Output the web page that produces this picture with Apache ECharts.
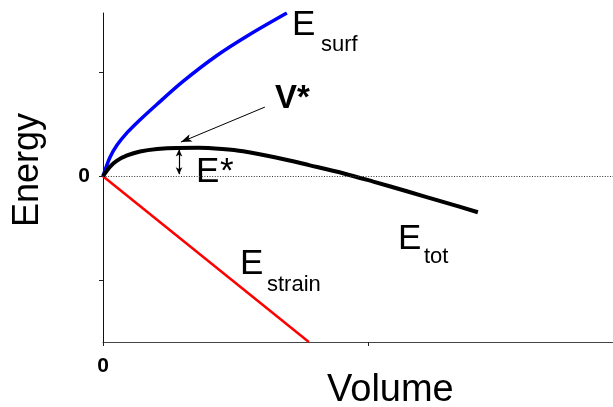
<!DOCTYPE html>
<html><head><meta charset="utf-8">
<script src="https://cdn.jsdelivr.net/npm/echarts@6/dist/echarts.min.js"></script>
<style>html,body{margin:0;padding:0;background:#fff}#c{width:613px;height:407px}</style>
</head><body><div id="c"></div>
<script>
// Surface energy curve (blue)
const volumeSurf = [0, 0.026, 0.053, 0.091, 0.14, 0.204, 0.302, 0.43, 0.555, 0.694];
const energySurf = [0, 0.18, 0.30, 0.42, 0.545, 0.695, 0.915, 1.165, 1.37, 1.575];
// Strain energy line (red)
const volumeStrain = [0, 0.777];
const energyStrain = [0, -1.6];
// Total energy curve (black)
const volumeTot = [0, 0.026, 0.053, 0.091, 0.14, 0.204, 0.279, 0.36, 0.45, 0.529, 0.657, 0.781, 0.906, 1.02, 1.15, 1.28, 1.415];
const energyTot = [0, 0.09, 0.15, 0.20, 0.238, 0.262, 0.273, 0.274, 0.262, 0.240, 0.178, 0.105, 0.029, -0.052, -0.148, -0.245, -0.348];
// ticks and labels
const xTicks = [0, 1];
const yTicks = [-1, 0, 1];
const xLabelValues = [0];
const yLabelValues = [0];
// annotations (data coordinates)
const vStarArrow = [[0.611, 0.667], [0.294, 0.329]];
const eStarArrow = [[0.287, 0.02], [0.287, 0.258]];

const zip = (a, b) => a.map((v, i) => [v, b[i]]);
const FONT = '"Liberation Sans", Arial, sans-serif';

const chart = echarts.init(document.getElementById('c'), null, {renderer: 'canvas'});

function txt(text, x, baseline, size, weight) {
  return {
    type: 'text', x: x, y: baseline - Math.round(0.85 * size),
    style: {text: text, fill: '#000', font: (weight || 'normal') + ' ' + size + 'px ' + FONT,
            textAlign: 'left', textVerticalAlign: 'top'}, silent: true
  };
}

chart.setOption({
  animation: false,
  backgroundColor: '#fff',
  grid: {left: 103, right: 0, top: 13, bottom: 65, containLabel: false},
  xAxis: {
    type: 'value', min: 0, max: 1.925,
    axisLine: {show: true, onZero: false, lineStyle: {color: '#444', width: 1}},
    axisTick: {show: true, customValues: xTicks, length: 4, inside: false, lineStyle: {color: '#222', width: 1}},
    axisLabel: {show: true, customValues: xLabelValues, color: '#000', fontFamily: FONT, fontWeight: 'bold', fontSize: 21, margin: 14},
    splitLine: {show: false}
  },
  yAxis: {
    type: 'value', min: -1.6, max: 1.575,
    axisLine: {show: true, onZero: false, lineStyle: {color: '#111', width: 1}},
    axisTick: {show: true, customValues: yTicks, length: 4, inside: false, lineStyle: {color: '#222', width: 1}},
    axisLabel: {show: true, customValues: yLabelValues, color: '#000', fontFamily: FONT, fontWeight: 'bold', fontSize: 21, margin: 13},
    splitLine: {show: false}
  },
  series: [
    {
      type: 'line', name: 'Esurf', data: zip(volumeSurf, energySurf), showSymbol: false, smooth: 0.3, clip: true,
      lineStyle: {color: '#0000ff', width: 3.5}, z: 3
    },
    {
      type: 'line', name: 'Estrain', data: zip(volumeStrain, energyStrain), showSymbol: false, clip: true,
      lineStyle: {color: '#ff0000', width: 2.5}, z: 3
    },
    {
      type: 'line', name: 'Etot', data: zip(volumeTot, energyTot), showSymbol: false, smooth: 0.3, clip: true,
      lineStyle: {color: '#000', width: 4}, z: 4,
      markLine: {
        silent: true, animation: false, label: {show: false},
        data: [
          [{yAxis: 0, x: 103, symbol: 'none', lineStyle: {type: [1, 1.6], color: '#333', width: 1}},
           {yAxis: 0, x: 613, symbol: 'none'}],
          [{coord: vStarArrow[0], symbol: 'none', lineStyle: {type: 'solid', color: '#000', width: 1}},
           {coord: vStarArrow[1], symbol: 'arrow', symbolSize: [6, 11]}],
          [{coord: eStarArrow[0], symbol: 'arrow', symbolSize: [5, 7], lineStyle: {type: 'solid', color: '#000', width: 1.2}},
           {coord: eStarArrow[1], symbol: 'arrow', symbolSize: [5, 7]}]
        ]
      }
    }
  ],
  graphic: [
    txt('E', 292, 38, 35),
    txt('surf', 321, 53, 22),
    txt('V*', 275, 110, 33, 'bold'),
    txt('E', 196, 185, 35),
    txt('*', 220, 185, 35),
    txt('E', 240, 277, 35),
    txt('strain', 267, 293, 22),
    txt('E', 398, 252, 35),
    txt('tot', 424, 265, 22),
    txt('Volume', 327, 404, 38),
    {
      type: 'text', x: 10, y: 170, rotation: Math.PI / 2,
      style: {text: 'Energy', fill: '#000', font: 'normal 36px ' + FONT, textAlign: 'center', textVerticalAlign: 'top'},
      silent: true
    }
  ]
});
</script>
</body></html>
